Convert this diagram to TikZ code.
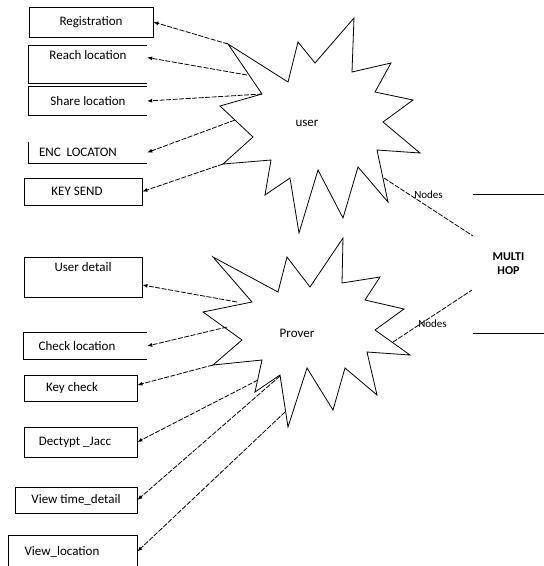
\documentclass[tikz,border=0pt]{standalone}
\usepackage{fontspec}
\setmainfont{Carlito}
\usetikzlibrary{arrows.meta}

\begin{document}
\begin{tikzpicture}[x=1pt,y=-1pt,
    every node/.style={font=\fontsize{13}{15}\selectfont},
    box/.style={draw,line width=0.8pt,inner sep=0pt},
    openbox/.style={inner sep=0pt},
    star/.style={draw,line width=0.8pt,line join=miter},
    link/.style={line width=0.8pt,dash pattern=on 5pt off 1.5pt,-{Latex[length=5pt,width=4pt]}},
    hop/.style={line width=0.8pt,dash pattern=on 5pt off 1.5pt}]
  \useasboundingbox (0,0) rectangle (544,566);

  \draw[star] (354,18) -- (352,72) -- (391,63) -- (375,92) -- (413,100) -- (383,122)
    -- (420,153) -- (377,150) -- (388,202) -- (358,167) -- (343,218) -- (318,170)
    -- (299,233) -- (290,178) -- (265,195) -- (271,160) -- (223,164) -- (253,137)
    -- (220,106) -- (262,94) -- (228,44) -- (288,82) -- (298,42) -- (315,63) -- cycle;
  \draw[star] (213,257) -- (278,292) -- (287,257) -- (310,287) -- (343,238) -- (342,283)
    -- (380,277) -- (365,300) -- (404,309) -- (375,330) -- (410,355) -- (367,352)
    -- (377,395) -- (345,368) -- (333,410) -- (307,368) -- (288,427) -- (280,375)
    -- (255,392) -- (262,360) -- (213,365) -- (242,340) -- (203,312) -- (252,302) -- cycle;

  \node (user) at (307,123) {user};
  \node (prover) at (297,333) {Prover};

  \coordinate (u1) at (228,44);
  \coordinate (u2) at (247,75);
  \coordinate (u3) at (262,94);
  \coordinate (u4) at (235,120);
  \coordinate (u5) at (223,164);
  \coordinate (u6) at (384,178);
  \coordinate (p1) at (237,302);
  \coordinate (p2) at (227,327);
  \coordinate (p3) at (213,365);
  \coordinate (p4) at (258,380);
  \coordinate (p5) at (280,376);
  \coordinate (p6) at (285,412);
  \coordinate (p7) at (393,342);
  \coordinate (m1) at (473,236);
  \coordinate (m2) at (472,290);

  \node[box,minimum width=124pt,minimum height=30pt] (reg) at (91,22) {Registration};
  \node[openbox,minimum width=118pt,minimum height=37pt,align=center] (reach) at (88,64.5) {Reach location\\ \strut};
  \node[openbox,minimum width=118pt,minimum height=28pt] (share) at (88,101) {Share location};
  \node[openbox,minimum width=118pt,minimum height=21pt] (enc) at (88,152.5) {ENC\ \ LOCATON\hspace*{20pt}};
  \node[box,minimum width=118pt,minimum height=27pt] (keysend) at (83,191.5) {KEY SEND\hspace*{12pt}};
  \draw[line width=0.8pt] (reach.north east) -- (reach.north west) -- (reach.south west) -- (reach.south east);
  \draw[line width=0.8pt] (share.north east) -- (share.north west) -- (share.south west) -- (share.south east);
  \draw[line width=0.8pt] (enc.north west) -- (enc.south west) -- (enc.south east);

  \node[box,minimum width=118pt,minimum height=40pt,align=center] (udetail) at (83,277) {User detail\\ \strut};
  \node[openbox,minimum width=123pt,minimum height=26pt] (chkloc) at (85.5,346) {Check location\hspace*{17pt}};
  \node[box,minimum width=113pt,minimum height=26pt] (keychk) at (80.5,388) {Key check\hspace*{17pt}};
  \node[box,minimum width=113pt,minimum height=30pt] (decrypt) at (80.5,442) {Dectypt \_Jacc\hspace*{11pt}};
  \node[box,minimum width=122pt,minimum height=26pt] (viewtime) at (76,500) {View time\_detail};
  \node[box,minimum width=129pt,minimum height=33pt] (viewloc) at (72.5,551.5) {View\_location\hspace*{21pt}};
  \draw[line width=0.8pt] (chkloc.north east) -- (chkloc.north west) -- (chkloc.south west) -- (chkloc.south east);

  \node[minimum width=71pt,minimum height=138pt,align=center,font=\fontsize{12}{14}\selectfont\bfseries] (multihop) at (508.5,264) {MULTI\\HOP};
  \draw[line width=0.8pt] (multihop.north west) -- (multihop.north east);
  \draw[line width=0.8pt] (multihop.south west) -- (multihop.south east);

  \draw[link] (u1) -- (reg.east);
  \draw[link] (u2) -- ([yshift=7pt]reach.east);
  \draw[link] (u3) -- (share.east);
  \draw[link] (u4) -- (enc.east);
  \draw[link] (u5) -- (keysend.east);
  \draw[hop] (u6) -- node[above=5pt,font=\fontsize{11}{13}\selectfont] {Nodes} (m1);

  \draw[link] (p1) -- ([yshift=-8pt]udetail.east);
  \draw[link] (p2) -- (chkloc.east);
  \draw[link] (p3) -- ([yshift=3pt]keychk.east);
  \draw[link] (p4) -- (decrypt.east);
  \draw[link] (p5) -- (viewtime.east);
  \draw[link] (p6) -- (viewloc.east);
  \draw[hop] (p7) -- node[below=0pt,font=\fontsize{11}{13}\selectfont] {Nodes} (m2);
\end{tikzpicture}
\end{document}
